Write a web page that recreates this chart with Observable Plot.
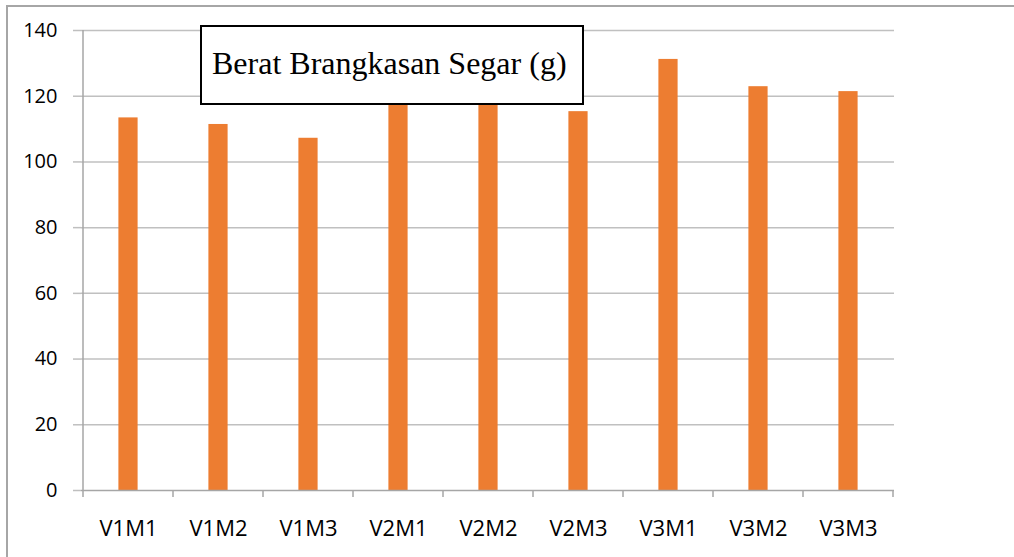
<!DOCTYPE html>
<html>
<head>
<meta charset="utf-8">
<script src="https://cdn.jsdelivr.net/npm/d3@7"></script>
<script src="https://cdn.jsdelivr.net/npm/@observablehq/plot@0.6"></script>
<style>
  html, body { margin: 0; padding: 0; background: #fff; }
  #wrap { position: relative; width: 1014px; height: 557px; overflow: hidden; background: #fff; }
  #frame { position: absolute; left: 6px; top: 5px; width: 1100px; height: 600px;
           border-top: 2px solid #a6a6a6; border-left: 2px solid #a6a6a6; pointer-events: none; }
  #title { position: absolute; left: 200px; top: 25px; width: 380px; height: 76px;
           border: 2px solid #000; background: #fff; box-sizing: content-box;
           font-family: "Liberation Serif", "Times New Roman", serif; font-size: 32px; color: #000;
           line-height: 76px; padding-left: 0; }
  #title span { position: absolute; left: 10px; top: -2px; white-space: nowrap; }
</style>
</head>
<body>
<div id="wrap"></div>
<script>
const categories = ["V1M1", "V1M2", "V1M3", "V2M1", "V2M2", "V2M3", "V3M1", "V3M2", "V3M3"];
const values = [113.4, 111.4, 107.2, 118.6, 118.2, 115.3, 131.2, 122.9, 121.4];
const yTicks = [0, 20, 40, 60, 80, 100, 120, 140];
const titleText = "Berat Brangkasan Segar (g)";

const data = categories.map((c, i) => ({cat: c, val: values[i]}));

const chart = Plot.plot({
  width: 1014,
  height: 557,
  marginLeft: 81,
  marginRight: 120,
  marginTop: 30,
  marginBottom: 67,
  style: {background: "transparent"},
  x: {type: "band", domain: categories, padding: 0, label: null},
  y: {domain: [0, 140], label: null},
  marks: [
    Plot.ruleY(yTicks.filter(d => d > 0), {stroke: "#c0c0c0", strokeWidth: 1.5}),
    Plot.barY(data, {x: "cat", y: "val", fill: "#ED7D31", insetLeft: 35.4, insetRight: 35.4}),
    Plot.ruleY([0], {stroke: "#a6a6a6", strokeWidth: 1.5}),
    Plot.axisY({ticks: yTicks, tickSize: 8, tickPadding: 16, stroke: "#bfbfbf", strokeWidth: 1.5,
                fill: "#000", fontSize: 20, fontFamily: "'Open Sans', sans-serif", label: null}),
    Plot.axisX({tickSize: 0, tickPadding: 30, fill: "#000", fontSize: 22,
                fontFamily: "'Open Sans', sans-serif", label: null})
  ]
});

// axis line on the left and category boundary ticks, from the chart's own scales
const xs = chart.scale("x");
const ys = chart.scale("y");
const svg = d3.select(chart);
const y0 = ys.apply(0), yTop = ys.apply(140);
const edges = categories.map(c => xs.apply(c)).concat([xs.apply(categories[categories.length - 1]) + xs.step]);
const g = svg.append("g").attr("stroke", "#a6a6a6").attr("stroke-width", 1.5);
g.append("line").attr("x1", edges[0]).attr("x2", edges[0]).attr("y1", yTop).attr("y2", y0);
g.selectAll("line.t").data(edges).join("line").attr("class", "t")
  .attr("x1", d => d).attr("x2", d => d).attr("y1", y0).attr("y2", y0 + 7);

const wrap = document.getElementById("wrap");
wrap.appendChild(chart);
const frame = document.createElement("div");
frame.id = "frame";
wrap.appendChild(frame);
const title = document.createElement("div");
title.id = "title";
const span = document.createElement("span");
span.textContent = titleText;
title.appendChild(span);
wrap.appendChild(title);
</script>
</body>
</html>
